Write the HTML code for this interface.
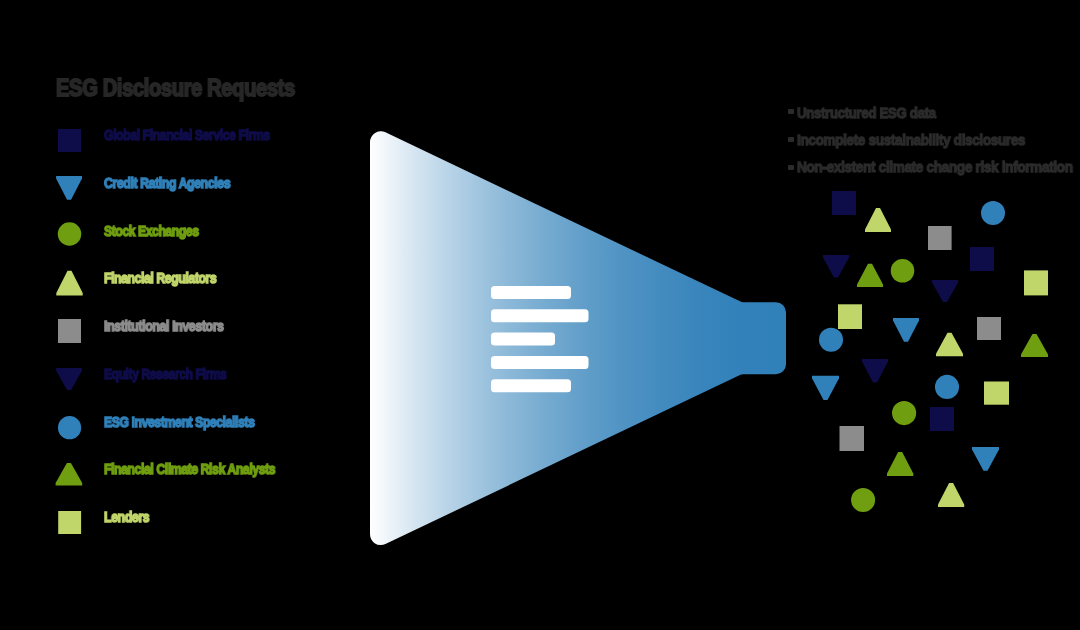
<!DOCTYPE html>
<html><head><meta charset="utf-8">
<style>
html,body{margin:0;padding:0;background:#000;}
body{width:1080px;height:630px;position:relative;overflow:hidden;font-family:"Liberation Sans",sans-serif;font-weight:bold;}
.t{position:absolute;white-space:nowrap;line-height:1;transform-origin:0 0;will-change:transform;}
.title{left:55.8px;top:77.3px;font-size:23px;letter-spacing:-0.5px;color:#272727;-webkit-text-stroke:1.8px #272727;}
.lg{left:104px;font-size:15px;letter-spacing:-0.5px;-webkit-text-stroke:1.5px currentColor;}
.bl{left:797px;font-size:15.5px;letter-spacing:-0.4px;color:#2b2b2b;-webkit-text-stroke:1.3px #2b2b2b;}
.dot{position:absolute;left:788px;width:5.5px;height:5px;background:#2b2b2b;border-radius:1px;}
svg{position:absolute;left:0;top:0;}
</style></head><body>
<svg width="1080" height="630" viewBox="0 0 1080 630">
<defs>
<linearGradient id="g" x1="370" y1="0" x2="786" y2="0" gradientUnits="userSpaceOnUse">
<stop offset="0.0" stop-color="#ffffff"/>
<stop offset="0.1" stop-color="#d8e7f2"/>
<stop offset="0.2" stop-color="#b4d1e6"/>
<stop offset="0.3" stop-color="#95bedb"/>
<stop offset="0.4" stop-color="#7baed2"/>
<stop offset="0.5" stop-color="#64a0ca"/>
<stop offset="0.6" stop-color="#5194c4"/>
<stop offset="0.7" stop-color="#438bbf"/>
<stop offset="0.8" stop-color="#3885bc"/>
<stop offset="0.9" stop-color="#3281ba"/>
<stop offset="1.0" stop-color="#3080b9"/>
</linearGradient>
<symbol id="sq" viewBox="0 0 24 24"><rect x="0" y="0" width="24" height="24"/></symbol>
</defs>
<path fill="url(#g)" d="M385.45 132.36 L740.48 301.62 A6 6 0 0 0 743.06 302.20 L776.00 302.20 A10 10 0 0 1 786.00 312.20 L786.00 364.20 A10 10 0 0 1 776.00 374.20 L743.06 374.20 A6 6 0 0 0 740.48 374.78 L385.45 544.04 A10.8 10.8 0 0 1 370.00 534.29 L370.00 142.11 A10.8 10.8 0 0 1 385.45 132.36 Z"/>
<g fill="#fff">
<rect x="491" y="286" width="80" height="13" rx="3.5"/>
<rect x="491" y="309.3" width="97.5" height="13" rx="3.5"/>
<rect x="491" y="332.6" width="64" height="13" rx="3.5"/>
<rect x="491" y="355.9" width="97.5" height="13" rx="3.5"/>
<rect x="491" y="379.2" width="80" height="13" rx="3.5"/>
</g>
<!-- shapes -->
<rect x="58" y="129" width="23.0" height="23.0" fill="#0f0c4a"/>
<path d="M56.1 176.1 H82 V178.6 L71.05 199.8 H67.05 L56.1 178.6 Z" fill="#3080b9"/>
<circle cx="69.50" cy="234.00" r="11.75" fill="#6f9e10"/>
<path d="M67.50 270.8 H71.50 L82.7 293.1 V295.6 H56.3 V293.1 Z" fill="#c0d56a"/>
<rect x="58" y="319" width="23.0" height="24.0" fill="#8c8c8c"/>
<path d="M56.1 368.1 H82 V370.6 L71.05 389.9 H67.05 L56.1 370.6 Z" fill="#0f0c4a"/>
<circle cx="69.55" cy="427.70" r="11.62" fill="#3080b9"/>
<path d="M66.90 462.9 H70.90 L82.2 483.1 V485.6 H55.6 V483.1 Z" fill="#6f9e10"/>
<rect x="58.2" y="511" width="22.9" height="23.0" fill="#c0d56a"/>
<rect x="832" y="191" width="24.0" height="24.0" fill="#0f0c4a"/>
<path d="M876.00 208 H880.00 L891 229.5 V232 H865 V229.5 Z" fill="#c0d56a"/>
<circle cx="993.00" cy="213.00" r="12.00" fill="#3080b9"/>
<rect x="928" y="226" width="23.6" height="24.0" fill="#8c8c8c"/>
<rect x="970" y="247" width="24.0" height="24.0" fill="#0f0c4a"/>
<path d="M823 255 H849 V257.5 L838.00 277.5 H834.00 L823 257.5 Z" fill="#0f0c4a"/>
<path d="M868.00 263.8 H872.00 L883 284.5 V287 H857 V284.5 Z" fill="#6f9e10"/>
<circle cx="902.50" cy="270.80" r="11.80" fill="#6f9e10"/>
<path d="M932 280 H958 V282.5 L947.00 302 H943.00 L932 282.5 Z" fill="#0f0c4a"/>
<rect x="1024" y="270.4" width="24.0" height="25.0" fill="#c0d56a"/>
<rect x="838" y="304.3" width="24.0" height="24.7" fill="#c0d56a"/>
<path d="M893 318 H919 V320.5 L908.00 341.8 H904.00 L893 320.5 Z" fill="#3080b9"/>
<rect x="977" y="317" width="24.0" height="23.0" fill="#8c8c8c"/>
<circle cx="831.00" cy="339.80" r="12.05" fill="#3080b9"/>
<path d="M947.50 332.7 H951.50 L963 353.7 V356.2 H936 V353.7 Z" fill="#c0d56a"/>
<path d="M1032.50 334 H1036.50 L1048 354.4 V356.9 H1021 V354.4 Z" fill="#6f9e10"/>
<path d="M862 359 H888 V361.5 L877.00 382.4 H873.00 L862 361.5 Z" fill="#0f0c4a"/>
<circle cx="947.00" cy="386.90" r="12.05" fill="#3080b9"/>
<rect x="984" y="381.5" width="25.0" height="23.2" fill="#c0d56a"/>
<path d="M812 375.7 H839 V378.2 L827.50 400.1 H823.50 L812 378.2 Z" fill="#3080b9"/>
<circle cx="904.10" cy="413.05" r="12.08" fill="#6f9e10"/>
<rect x="930" y="407" width="24.0" height="24.0" fill="#0f0c4a"/>
<rect x="839.5" y="426" width="24.5" height="25.0" fill="#8c8c8c"/>
<path d="M972 447.1 H999 V449.6 L987.50 470.7 H983.50 L972 449.6 Z" fill="#3080b9"/>
<path d="M898.15 452 H902.15 L913.3 473.5 V476 H887 V473.5 Z" fill="#6f9e10"/>
<circle cx="863.10" cy="500.10" r="12.00" fill="#6f9e10"/>
<path d="M949.10 483 H953.10 L964.2 504.5 V507 H938 V504.5 Z" fill="#c0d56a"/>
</svg>
<div class="t title" style="transform:scaleX(0.881)">ESG Disclosure Requests</div>
<div class="t lg" style="top:127.00px;color:#0f0c4a;transform:scaleX(0.815)">Global Financial Service Firms</div>
<div class="t lg" style="top:174.75px;color:#3080b9;transform:scaleX(0.8222)">Credit Rating Agencies</div>
<div class="t lg" style="top:222.50px;color:#6f9e10;transform:scaleX(0.8105)">Stock Exchanges</div>
<div class="t lg" style="top:270.25px;color:#c0d56a;transform:scaleX(0.8164)">Financial Regulators</div>
<div class="t lg" style="top:318.00px;color:#8c8c8c;transform:scaleX(0.8284)">Institutional Investors</div>
<div class="t lg" style="top:365.75px;color:#0f0c4a;transform:scaleX(0.8043)">Equity Research Firms</div>
<div class="t lg" style="top:413.50px;color:#3080b9;transform:scaleX(0.8153)">ESG Investment Specialists</div>
<div class="t lg" style="top:461.25px;color:#6f9e10;transform:scaleX(0.8157)">Financial Climate Risk Analysts</div>
<div class="t lg" style="top:509.00px;color:#c0d56a;transform:scaleX(0.8237)">Lenders</div>
<div class="dot" style="top:109.3px"></div>
<div class="dot" style="top:137px"></div>
<div class="dot" style="top:164.5px"></div>
<div class="t bl" style="top:104.9px;transform:scaleX(0.8552)">Unstructured ESG data</div>
<div class="t bl" style="top:131.7px;transform:scaleX(0.8747)">Incomplete sustainability disclosures</div>
<div class="t bl" style="top:158.6px;transform:scaleX(0.8778)">Non-existent climate change risk information</div>
</body></html>
